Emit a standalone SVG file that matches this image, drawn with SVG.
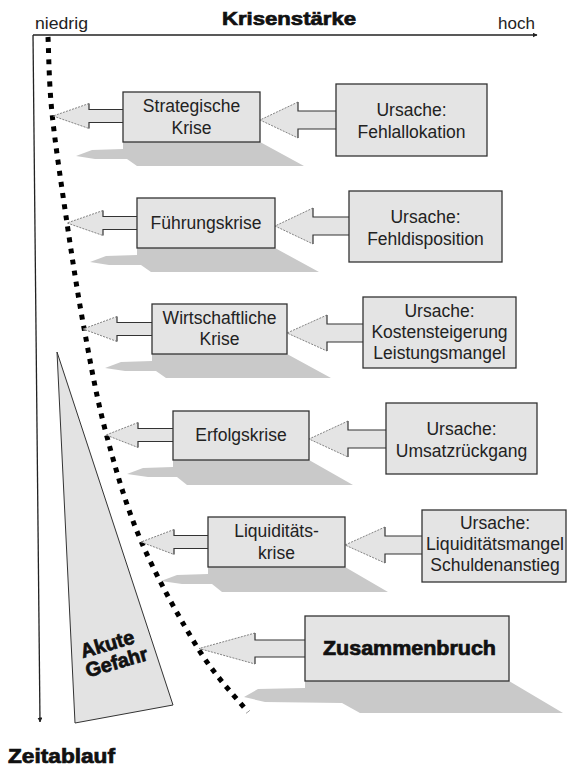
<svg xmlns="http://www.w3.org/2000/svg" width="567" height="766" viewBox="0 0 567 766">
<style>
  .box { fill: #e4e4e4; stroke: #333; stroke-width: 1.3; }
  .shadow { fill: #c9c9c9; stroke: none; }
  .afill { fill: #e4e4e4; stroke: none; }
  .aline { fill: none; stroke: #333; stroke-width: 1.2; }
  .ahead { fill: none; stroke: #666; stroke-width: 0.8; stroke-dasharray: 2 1.2; }
  .t { font-family: "Liberation Sans", Arial, sans-serif; font-size: 17.5px; fill: #222; text-anchor: middle; }
  .lbl { font-family: "Liberation Sans", Arial, sans-serif; font-size: 17px; fill: #222; }
  .heavy { font-family: "Liberation Sans", Arial, sans-serif; font-weight: bold; fill: #111; stroke: #111; stroke-width: 0.7; }
  .axis { fill: none; stroke: #222; stroke-width: 1.3; }
</style>
<defs>
  <marker id="ah" viewBox="0 0 10 10" refX="9" refY="5" markerWidth="5" markerHeight="5" orient="auto" markerUnits="userSpaceOnUse">
    <path d="M0,0 L10,5 L0,10 Z" fill="#222"/>
  </marker>
</defs>
<rect width="567" height="766" fill="#fff"/>

<!-- axes -->
<g id="axes">
  <line class="axis" x1="33" y1="35" x2="537" y2="35" marker-end="url(#ah)"/>
  <line class="axis" x1="33" y1="35" x2="40" y2="722" marker-end="url(#ah)"/>
  <text class="lbl" x="35" y="29" textLength="53" lengthAdjust="spacingAndGlyphs">niedrig</text>
  <text class="lbl" x="498" y="29">hoch</text>
  <text class="heavy" x="222" y="25" font-size="19" textLength="134" lengthAdjust="spacingAndGlyphs">Krisenstärke</text>
  <text class="heavy" x="8" y="763" font-size="19.5" textLength="107" lengthAdjust="spacingAndGlyphs">Zeitablauf</text>
</g>

<!-- akute gefahr -->
<g id="akute-gefahr">
  <polygon points="57,352 173,705 75,723" fill="#e3e3e3" stroke="#333" stroke-width="1"/>
  <g transform="translate(111,650) rotate(-16)">
    <text class="heavy" x="-2" y="0" font-size="20" text-anchor="middle" textLength="55" lengthAdjust="spacingAndGlyphs" fill="#222" stroke="#222" stroke-width="0.4">Akute</text>
    <text class="heavy" x="2" y="20" font-size="20" text-anchor="middle" textLength="64" lengthAdjust="spacingAndGlyphs" fill="#222" stroke="#222" stroke-width="0.4">Gefahr</text>
  </g>
</g>

<!-- shadows -->
<g id="shadows">
  <polygon class="shadow" points="123,142 260,142 304,166 137,166 127,159 95,159 76,156 92,150 123,149"/>
  <polygon class="shadow" points="137,248 275,248 319,272 151,272 141,265 109,265 90,262 106,256 137,255"/>
  <polygon class="shadow" points="152,354 287,354 331,378 166,378 156,371 125,371 105,368 121,362 152,361"/>
  <polygon class="shadow" points="173,460 309,460 353,485 187,485 177,477 148,477 127,474 143,468 173,467"/>
  <polygon class="shadow" points="208,567 345,567 388,592 222,592 212,584 182,584 161,581 177,575 208,574"/>
  <polygon class="shadow" points="305,681 509,681 563,713 360,713 342,703 265,702 244,697 258,689 305,688"/>
</g>

<!-- connectors -->
<g id="connectors">
  <!-- dotted crisis curve -->
  <path d="M48,37 C48.7,49.7 48.8,82 52,113 C55.2,144 61.7,187.2 67,223 C72.3,258.8 77.5,293 84,328 C90.5,363 96.5,397.5 106,433 C115.5,468.5 125.5,504.8 141,541 C156.5,577.2 181.2,621.5 199,650 C216.8,678.5 239.8,701.7 248,712" fill="none" stroke="#000" stroke-width="5" stroke-dasharray="5 6.2"/>

  <!-- right arrows: cause -> crisis -->
  <g id="arrow-r1">
    <polygon class="afill" points="336,111 298,111 298,102 260,120 298,138 298,129 336,129"/>
    <path class="aline" d="M336,111 H298 V102 M336,129 H298 V138"/>
    <path class="ahead" d="M298,102 L260,120 L298,138"/>
  </g>
  <g id="arrow-r2">
    <polygon class="afill" points="349,217 313,217 313,208 275,226 313,244 313,235 349,235"/>
    <path class="aline" d="M349,217 H313 V208 M349,235 H313 V244"/>
    <path class="ahead" d="M313,208 L275,226 L313,244"/>
  </g>
  <g id="arrow-r3">
    <polygon class="afill" points="363,324 327,324 327,315 287,333 327,351 327,342 363,342"/>
    <path class="aline" d="M363,324 H327 V315 M363,342 H327 V351"/>
    <path class="ahead" d="M327,315 L287,333 L327,351"/>
  </g>
  <g id="arrow-r4">
    <polygon class="afill" points="386,430 348,430 348,421 309,439 348,457 348,448 386,448"/>
    <path class="aline" d="M386,430 H348 V421 M386,448 H348 V457"/>
    <path class="ahead" d="M348,421 L309,439 L348,457"/>
  </g>
  <g id="arrow-r5">
    <polygon class="afill" points="422,536 385,536 385,527 345,545 385,563 385,554 422,554"/>
    <path class="aline" d="M422,536 H385 V527 M422,554 H385 V563"/>
    <path class="ahead" d="M385,527 L345,545 L385,563"/>
  </g>

  <!-- left arrows: crisis -> curve -->
  <g id="arrow-l1">
    <polygon class="afill" points="123,109.5 89,109.5 89,103.5 53,116 89,128.5 89,122.5 123,122.5"/>
    <path class="aline" d="M123,109.5 H89 V103.5 M123,122.5 H89 V128.5"/>
    <path class="ahead" d="M89,103.5 L53,116 L89,128.5"/>
  </g>
  <g id="arrow-l2">
    <polygon class="afill" points="137,216.5 103,216.5 103,210.5 67,223 103,235.5 103,229.5 137,229.5"/>
    <path class="aline" d="M137,216.5 H103 V210.5 M137,229.5 H103 V235.5"/>
    <path class="ahead" d="M103,210.5 L67,223 L103,235.5"/>
  </g>
  <g id="arrow-l3">
    <polygon class="afill" points="152,322.5 117,322.5 117,316.5 83,329 117,341.5 117,335.5 152,335.5"/>
    <path class="aline" d="M152,322.5 H117 V316.5 M152,335.5 H117 V341.5"/>
    <path class="ahead" d="M117,316.5 L83,329 L117,341.5"/>
  </g>
  <g id="arrow-l4">
    <polygon class="afill" points="173,428.5 138,428.5 138,422.5 106,435 138,447.5 138,441.5 173,441.5"/>
    <path class="aline" d="M173,428.5 H138 V422.5 M173,441.5 H138 V447.5"/>
    <path class="ahead" d="M138,422.5 L106,435 L138,447.5"/>
  </g>
  <g id="arrow-l5">
    <polygon class="afill" points="208,535.5 174,535.5 174,529.5 141,542 174,554.5 174,548.5 208,548.5"/>
    <path class="aline" d="M208,535.5 H174 V529.5 M208,548.5 H174 V554.5"/>
    <path class="ahead" d="M174,529.5 L141,542 L174,554.5"/>
  </g>
  <g id="arrow-l6">
    <polygon class="afill" points="305,640 255,640 255,633 199,648.5 255,664 255,657 305,657"/>
    <path class="aline" d="M305,640 H255 V633 M305,657 H255 V664"/>
    <path class="ahead" d="M255,633 L199,648.5 L255,664"/>
  </g>
</g>

<!-- crisis nodes -->
<g id="strategische-krise">
  <rect class="box" x="123" y="92" width="137" height="50"/>
  <text class="t" x="191.5" y="112">Strategische</text>
  <text class="t" x="191.5" y="133.5">Krise</text>
</g>
<g id="fuehrungskrise">
  <rect class="box" x="137" y="198" width="138" height="50"/>
  <text class="t" x="206" y="229">Führungskrise</text>
</g>
<g id="wirtschaftliche-krise">
  <rect class="box" x="152" y="304" width="135" height="50"/>
  <text class="t" x="219.5" y="323.5">Wirtschaftliche</text>
  <text class="t" x="219.5" y="345">Krise</text>
</g>
<g id="erfolgskrise">
  <rect class="box" x="173" y="411" width="136" height="49"/>
  <text class="t" x="241" y="441">Erfolgskrise</text>
</g>
<g id="liquiditaetskrise">
  <rect class="box" x="208" y="517" width="137" height="50"/>
  <text class="t" x="276.5" y="537">Liquiditäts-</text>
  <text class="t" x="276.5" y="558.5">krise</text>
</g>
<g id="zusammenbruch">
  <rect class="box" x="305" y="616" width="204" height="65"/>
  <text class="heavy" x="409.5" y="655" font-size="20" text-anchor="middle" textLength="173" lengthAdjust="spacingAndGlyphs" fill="#222" stroke="#222" stroke-width="0.3">Zusammenbruch</text>
</g>

<!-- cause nodes -->
<g id="ursache-fehlallokation">
  <rect class="box" x="336" y="84" width="151" height="72"/>
  <text class="t" x="411.5" y="115.5">Ursache:</text>
  <text class="t" x="411.5" y="137.5">Fehlallokation</text>
</g>
<g id="ursache-fehldisposition">
  <rect class="box" x="349" y="191" width="153" height="71"/>
  <text class="t" x="425.5" y="222.5">Ursache:</text>
  <text class="t" x="425.5" y="244.5">Fehldisposition</text>
</g>
<g id="ursache-kostensteigerung">
  <rect class="box" x="363" y="297" width="153" height="71"/>
  <text class="t" x="439.5" y="317">Ursache:</text>
  <text class="t" x="439.5" y="338">Kostensteigerung</text>
  <text class="t" x="439.5" y="359">Leistungsmangel</text>
</g>
<g id="ursache-umsatzrueckgang">
  <rect class="box" x="386" y="403" width="151" height="71"/>
  <text class="t" x="461.5" y="434.5">Ursache:</text>
  <text class="t" x="461.5" y="456.5">Umsatzrückgang</text>
</g>
<g id="ursache-liquiditaetsmangel">
  <rect class="box" x="422" y="510" width="144" height="72"/>
  <text class="t" x="495" y="529">Ursache:</text>
  <text class="t" x="495" y="550" textLength="138" lengthAdjust="spacingAndGlyphs">Liquiditätsmangel</text>
  <text class="t" x="495" y="571">Schuldenanstieg</text>
</g>
</svg>
